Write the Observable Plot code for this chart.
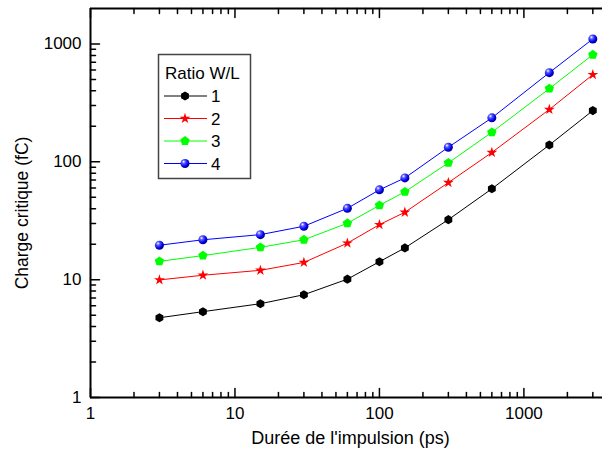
<!DOCTYPE html>
<html>
<head>
<meta charset="utf-8">
<script src="https://cdn.jsdelivr.net/npm/d3@7"></script>
<script src="https://cdn.jsdelivr.net/npm/@observablehq/plot@0.6"></script>
<style>
  html, body { margin: 0; padding: 0; background: #fff; }
  #chart { width: 602px; height: 457px; }
  svg { font-family: "Liberation Sans", Arial, sans-serif; }
</style>
</head>
<body>
<div id="chart"></div>
<script>
// ---- data ----
const pulseDuration = [3, 6, 15, 30, 60, 100, 150, 300, 600, 1500, 3000];
const ratio1 = [4.75, 5.35, 6.25, 7.45, 10.1, 14.2, 18.6, 32.3, 59, 139, 272];
const ratio2 = [9.95, 10.9, 12.0, 14.0, 20.4, 29.3, 37.3, 66.6, 120, 278, 549];
const ratio3 = [14.3, 16.0, 18.8, 21.8, 30.1, 42.7, 55.6, 98, 178, 418, 811];
const ratio4 = [19.6, 21.8, 24.1, 28.4, 40.3, 57.8, 73, 133, 236, 571, 1103];
const seriesNames = ["1", "2", "3", "4"];
const seriesColors = ["#000000", "#ff0000", "#00ff00", "#0000ff"];
const xMajorTicks = [1, 10, 100, 1000];
const yMajorTicks = [1, 10, 100, 1000];
const xTitle = "Durée de l'impulsion (ps)";
const yTitle = "Charge critique (fC)";
const legendTitle = "Ratio W/L";

// ---- build table ----
const allSeries = [ratio1, ratio2, ratio3, ratio4];
const table = [];
allSeries.forEach((vals, i) => vals.forEach((v, j) => table.push({x: pulseDuration[j], y: v, s: seriesNames[i]})));

const xMinor = [], yMinor = [];
for (const d of [1, 10, 100, 1000]) for (let k = 2; k <= 9; k++) {
  if (d * k <= 3500) xMinor.push(d * k);
  if (d * k < 2000) yMinor.push(d * k);
}

// custom polygon symbols (size = area-ish, as in d3)
function polygon(n, scale, offset) {
  return {
    draw(context, size) {
      const r = Math.sqrt(size / Math.PI) * scale;
      for (let i = 0; i < n; i++) {
        const a = offset + i * 2 * Math.PI / n;
        const px = r * Math.cos(a), py = r * Math.sin(a);
        if (i === 0) context.moveTo(px, py); else context.lineTo(px, py);
      }
      context.closePath();
    }
  };
}
const hexagon = polygon(6, 1.08, -Math.PI / 2);
const pentagon = polygon(5, 1.12, -Math.PI / 2);
const symbols = [hexagon, d3.symbolStar, pentagon, d3.symbolCircle];
const radii = [4.2, 3.4, 4.4, 4.5];
const fills = ["#000000", "#ff0000", "#00ff00", "url(#sphereGrad)"];

const tickShape = {draw(context, l) { context.moveTo(0, 0); context.lineTo(0, -l); }};
const ax = "#000";

const marks = [];
// series lines
marks.push(Plot.line(table, {x: "x", y: "y", z: "s", stroke: "s", strokeWidth: 1}));
// markers
seriesNames.forEach((name, i) => {
  marks.push(Plot.dot(table.filter(d => d.s === name), {
    x: "x", y: "y", symbol: symbols[i], r: radii[i], fill: fills[i], stroke: "none"
  }));
});
// frame lines
marks.push(Plot.ruleX([1], {stroke: ax, strokeWidth: 2}));
marks.push(Plot.ruleY([1], {stroke: ax, strokeWidth: 2}));
marks.push(Plot.ruleY([2000], {stroke: ax, strokeWidth: 2}));
// inward ticks
const vt = (data, opts, len) => Plot.vector(data, {...opts, length: len, anchor: "start", shape: tickShape, stroke: ax, strokeWidth: 1.5});
marks.push(vt(xMajorTicks, {x: d => d, y: d => 1, rotate: 0}, 9));
marks.push(vt(xMinor, {x: d => d, y: d => 1, rotate: 0}, 5));
marks.push(vt(xMajorTicks, {x: d => d, y: d => 2000, rotate: 180}, 9));
marks.push(vt(xMinor, {x: d => d, y: d => 2000, rotate: 180}, 5));
marks.push(vt(yMajorTicks, {x: d => 1, y: d => d, rotate: 90}, 9));
marks.push(vt(yMinor, {x: d => 1, y: d => d, rotate: 90}, 5));
// tick labels
marks.push(Plot.axisX(xMajorTicks, {anchor: "bottom", tickSize: 0, tickPadding: 9, fontSize: 17, tickFormat: d => String(d), label: null}));
marks.push(Plot.axisY(yMajorTicks, {anchor: "left", tickSize: 0, tickPadding: 9, fontSize: 17, tickFormat: d => String(d), label: null}));
// axis titles
marks.push(Plot.text([xTitle], {frameAnchor: "bottom", text: d => d, dx: 4, dy: 41, fontSize: 18, lineAnchor: "middle", textAnchor: "middle"}));
marks.push(Plot.text([yTitle], {frameAnchor: "left", text: d => d, dx: -68, dy: 10, rotate: -90, fontSize: 17.5, lineAnchor: "middle", textAnchor: "middle"}));

const chart = Plot.plot({
  width: 602,
  height: 457,
  marginLeft: 90,
  marginRight: 0,
  marginTop: 8,
  marginBottom: 60,
  style: {fontFamily: "'Liberation Sans', Arial, sans-serif", color: "#000", background: "#fff", overflow: "visible"},
  x: {type: "log", domain: [1, 3500], axis: null},
  y: {type: "log", domain: [1, 2000], axis: null},
  color: {domain: seriesNames, range: seriesColors},
  marks
});

document.getElementById("chart").appendChild(chart);

// gradient for the sphere markers and the legend
const svg = d3.select(chart);
const defs = svg.insert("defs", ":first-child");
const g = defs.append("radialGradient").attr("id", "sphereGrad").attr("cx", "35%").attr("cy", "35%").attr("r", "65%").attr("fx", "35%").attr("fy", "30%");
g.append("stop").attr("offset", "0%").attr("stop-color", "#ffffff");
g.append("stop").attr("offset", "30%").attr("stop-color", "#5a5aff");
g.append("stop").attr("offset", "75%").attr("stop-color", "#0000ee");
g.append("stop").attr("offset", "100%").attr("stop-color", "#00008a");

// legend
const lg = svg.append("g").attr("font-family", "'Liberation Sans', Arial, sans-serif")
  .attr("font-size", 17).attr("text-anchor", "start").attr("fill", "#000");
lg.append("rect").attr("x", 158.5).attr("y", 54.5).attr("width", 92).attr("height", 124)
  .attr("fill", "#fff").attr("stroke", "#444").attr("stroke-width", 1.5);
lg.append("text").attr("x", 165).attr("y", 79).text(legendTitle);
seriesNames.forEach((name, i) => {
  const cy = 96 + i * 22.5;
  lg.append("line").attr("x1", 164).attr("x2", 207).attr("y1", cy).attr("y2", cy)
    .attr("stroke", seriesColors[i]).attr("stroke-width", 1);
  const sym = d3.symbol().type(symbols[i]).size(Math.PI * radii[i] * radii[i]);
  lg.append("path").attr("d", sym()).attr("transform", `translate(185,${cy})`).attr("fill", fills[i]);
  lg.append("text").attr("x", 211).attr("y", cy + 6).text(name);
});
</script>
</body>
</html>
